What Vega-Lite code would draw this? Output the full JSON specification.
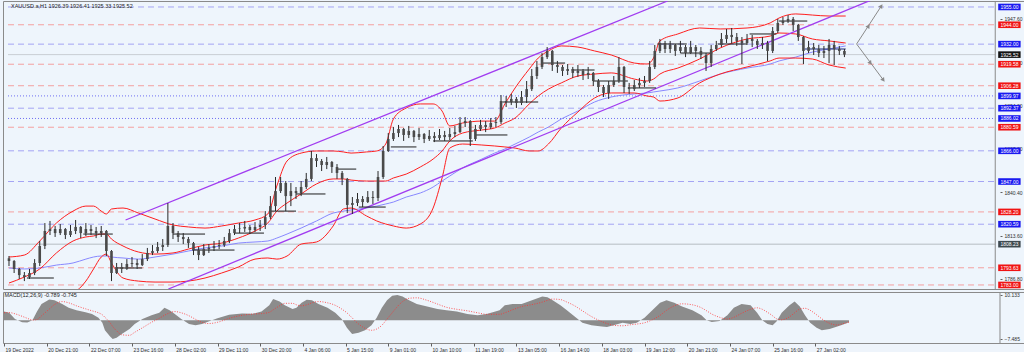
{
"$schema": "https://vega.github.io/schema/vega-lite/v6.json",
"background": "#eef4fb",
"padding": {"left": 1, "top": 0, "right": 0, "bottom": 0},
"autosize": {"type": "pad"},
"bounds": "flush",
"spacing": 3,
"config": {
  "view": {"stroke": "#8a8a8a", "strokeWidth": 1, "fill": "#eef5fc"},
  "font": "Liberation Sans",
  "axis": {"labelFont": "Liberation Sans", "labelFontSize": 5, "labelColor": "#303030", "tickColor": "#606060", "grid": false, "domain": false, "title": null, "zindex": 0}
},
"datasets": {
"bars": [
{"i":0,"o":1799.5,"h":1800.9,"l":1794.7,"c":1797.8},
{"i":4,"o":1797.8,"h":1798.4,"l":1790.4,"c":1792.9},
{"i":8,"o":1792.9,"h":1793.5,"l":1786.7,"c":1789.1},
{"i":12,"o":1789.1,"h":1791.0,"l":1785.4,"c":1787.9},
{"i":16,"o":1787.9,"h":1792.9,"l":1786.7,"c":1790.4},
{"i":20,"o":1790.4,"h":1799.0,"l":1789.1,"c":1796.6},
{"i":24,"o":1796.6,"h":1810.2,"l":1794.7,"c":1807.1},
{"i":28,"o":1807.1,"h":1821.3,"l":1805.2,"c":1816.4},
{"i":32,"o":1816.4,"h":1822.6,"l":1813.9,"c":1817.6},
{"i":36,"o":1817.6,"h":1819.5,"l":1812.7,"c":1815.1},
{"i":40,"o":1815.1,"h":1820.7,"l":1813.9,"c":1817.6},
{"i":44,"o":1817.6,"h":1818.2,"l":1811.4,"c":1813.9},
{"i":48,"o":1813.9,"h":1820.1,"l":1812.7,"c":1816.4},
{"i":52,"o":1816.4,"h":1823.2,"l":1814.5,"c":1818.9},
{"i":56,"o":1818.9,"h":1819.5,"l":1812.0,"c":1815.1},
{"i":60,"o":1815.1,"h":1821.3,"l":1813.3,"c":1817.6},
{"i":64,"o":1817.6,"h":1820.1,"l":1813.9,"c":1816.4},
{"i":68,"o":1816.4,"h":1818.9,"l":1812.0,"c":1815.1},
{"i":72,"o":1815.1,"h":1819.5,"l":1812.7,"c":1816.4},
{"i":76,"o":1816.4,"h":1817.0,"l":1800.9,"c":1804.0},
{"i":80,"o":1804.0,"h":1804.6,"l":1785.4,"c":1790.4},
{"i":84,"o":1790.4,"h":1796.6,"l":1789.8,"c":1794.1},
{"i":88,"o":1794.1,"h":1796.6,"l":1790.4,"c":1792.9},
{"i":92,"o":1792.9,"h":1799.0,"l":1792.3,"c":1796.0},
{"i":96,"o":1796.0,"h":1800.3,"l":1794.1,"c":1796.6},
{"i":100,"o":1796.6,"h":1799.0,"l":1792.9,"c":1795.3},
{"i":104,"o":1795.3,"h":1802.1,"l":1794.7,"c":1799.0},
{"i":108,"o":1799.0,"h":1805.9,"l":1797.8,"c":1802.8},
{"i":112,"o":1802.8,"h":1807.7,"l":1801.5,"c":1804.0},
{"i":116,"o":1804.0,"h":1809.6,"l":1802.8,"c":1806.5},
{"i":120,"o":1806.5,"h":1811.4,"l":1804.0,"c":1807.7},
{"i":124,"o":1807.7,"h":1833.7,"l":1806.5,"c":1819.5},
{"i":128,"o":1819.5,"h":1821.3,"l":1811.4,"c":1815.1},
{"i":132,"o":1815.1,"h":1816.4,"l":1809.6,"c":1812.7},
{"i":136,"o":1812.7,"h":1815.1,"l":1808.3,"c":1811.4},
{"i":140,"o":1811.4,"h":1812.7,"l":1805.9,"c":1808.9},
{"i":144,"o":1808.9,"h":1809.6,"l":1801.5,"c":1804.6},
{"i":148,"o":1804.6,"h":1806.5,"l":1798.4,"c":1801.5},
{"i":152,"o":1801.5,"h":1808.3,"l":1800.9,"c":1805.2},
{"i":156,"o":1805.2,"h":1808.3,"l":1802.8,"c":1805.9},
{"i":160,"o":1805.9,"h":1810.2,"l":1804.0,"c":1807.1},
{"i":164,"o":1807.1,"h":1810.8,"l":1805.2,"c":1807.7},
{"i":168,"o":1807.7,"h":1812.7,"l":1806.5,"c":1810.2},
{"i":172,"o":1810.2,"h":1817.6,"l":1808.9,"c":1815.1},
{"i":176,"o":1815.1,"h":1820.1,"l":1813.9,"c":1817.6},
{"i":180,"o":1817.6,"h":1821.3,"l":1815.1,"c":1817.9},
{"i":184,"o":1817.9,"h":1822.6,"l":1815.8,"c":1818.9},
{"i":188,"o":1818.9,"h":1820.1,"l":1814.5,"c":1817.0},
{"i":192,"o":1817.0,"h":1821.9,"l":1815.8,"c":1818.9},
{"i":196,"o":1818.9,"h":1823.2,"l":1816.4,"c":1820.1},
{"i":200,"o":1820.1,"h":1828.7,"l":1817.6,"c":1825.0},
{"i":204,"o":1825.0,"h":1838.0,"l":1823.8,"c":1831.8},
{"i":208,"o":1831.8,"h":1849.8,"l":1828.7,"c":1841.1},
{"i":212,"o":1841.1,"h":1849.8,"l":1839.9,"c":1846.1},
{"i":216,"o":1846.1,"h":1847.3,"l":1828.7,"c":1838.0},
{"i":220,"o":1838.0,"h":1846.1,"l":1831.8,"c":1841.1},
{"i":224,"o":1841.1,"h":1843.6,"l":1836.2,"c":1839.9},
{"i":228,"o":1839.9,"h":1847.3,"l":1838.0,"c":1843.6},
{"i":232,"o":1843.6,"h":1852.3,"l":1842.4,"c":1848.6},
{"i":236,"o":1848.6,"h":1865.9,"l":1847.3,"c":1861.5},
{"i":240,"o":1861.5,"h":1864.0,"l":1856.0,"c":1859.7},
{"i":244,"o":1859.7,"h":1860.9,"l":1853.5,"c":1857.2},
{"i":248,"o":1857.2,"h":1862.2,"l":1854.7,"c":1859.1},
{"i":252,"o":1859.1,"h":1859.7,"l":1852.3,"c":1856.0},
{"i":256,"o":1856.0,"h":1857.8,"l":1848.6,"c":1852.3},
{"i":260,"o":1852.3,"h":1853.5,"l":1844.8,"c":1848.6},
{"i":264,"o":1848.6,"h":1849.2,"l":1827.5,"c":1832.5},
{"i":268,"o":1832.5,"h":1837.4,"l":1826.9,"c":1833.7},
{"i":272,"o":1833.7,"h":1839.9,"l":1831.8,"c":1836.2},
{"i":276,"o":1836.2,"h":1838.0,"l":1831.2,"c":1834.3},
{"i":280,"o":1834.3,"h":1841.1,"l":1833.7,"c":1837.4},
{"i":284,"o":1837.4,"h":1841.1,"l":1833.1,"c":1836.8},
{"i":288,"o":1836.8,"h":1853.5,"l":1834.9,"c":1849.8},
{"i":292,"o":1849.8,"h":1869.0,"l":1848.6,"c":1865.9},
{"i":296,"o":1865.9,"h":1877.0,"l":1865.3,"c":1873.3},
{"i":300,"o":1873.3,"h":1880.7,"l":1872.1,"c":1877.0},
{"i":304,"o":1877.0,"h":1882.0,"l":1874.5,"c":1879.5},
{"i":308,"o":1879.5,"h":1880.1,"l":1872.1,"c":1875.8},
{"i":312,"o":1875.8,"h":1881.4,"l":1873.9,"c":1878.3},
{"i":316,"o":1878.3,"h":1878.9,"l":1871.4,"c":1874.5},
{"i":320,"o":1874.5,"h":1880.1,"l":1872.7,"c":1876.4},
{"i":324,"o":1876.4,"h":1877.0,"l":1870.8,"c":1873.3},
{"i":328,"o":1873.3,"h":1878.9,"l":1872.1,"c":1875.2},
{"i":332,"o":1875.2,"h":1877.6,"l":1871.4,"c":1873.9},
{"i":336,"o":1873.9,"h":1879.5,"l":1872.7,"c":1875.8},
{"i":340,"o":1875.8,"h":1878.3,"l":1872.1,"c":1874.5},
{"i":344,"o":1874.5,"h":1880.1,"l":1872.7,"c":1876.4},
{"i":348,"o":1876.4,"h":1881.4,"l":1874.5,"c":1877.6},
{"i":352,"o":1877.6,"h":1886.9,"l":1877.0,"c":1883.2},
{"i":356,"o":1883.2,"h":1886.9,"l":1880.7,"c":1884.4},
{"i":360,"o":1884.4,"h":1885.0,"l":1869.0,"c":1873.3},
{"i":364,"o":1873.3,"h":1882.0,"l":1872.1,"c":1879.5},
{"i":368,"o":1879.5,"h":1885.1,"l":1878.3,"c":1882.0},
{"i":372,"o":1882.0,"h":1884.4,"l":1877.6,"c":1880.7},
{"i":376,"o":1880.7,"h":1886.3,"l":1879.5,"c":1883.2},
{"i":380,"o":1883.2,"h":1886.9,"l":1880.7,"c":1883.8},
{"i":384,"o":1883.8,"h":1900.5,"l":1882.6,"c":1896.8},
{"i":388,"o":1896.8,"h":1899.9,"l":1893.1,"c":1896.2},
{"i":392,"o":1896.2,"h":1901.2,"l":1894.3,"c":1898.1},
{"i":396,"o":1898.1,"h":1899.3,"l":1892.5,"c":1895.6},
{"i":400,"o":1895.6,"h":1903.0,"l":1894.3,"c":1899.3},
{"i":404,"o":1899.3,"h":1909.2,"l":1895.6,"c":1904.2},
{"i":408,"o":1904.2,"h":1916.6,"l":1903.0,"c":1912.3},
{"i":412,"o":1912.3,"h":1921.6,"l":1910.4,"c":1917.9},
{"i":416,"o":1917.9,"h":1926.5,"l":1916.6,"c":1924.0},
{"i":420,"o":1924.0,"h":1930.2,"l":1922.8,"c":1927.8},
{"i":424,"o":1927.8,"h":1928.4,"l":1915.4,"c":1919.1},
{"i":428,"o":1919.1,"h":1921.6,"l":1914.2,"c":1917.9},
{"i":432,"o":1917.9,"h":1919.1,"l":1912.3,"c":1915.4},
{"i":436,"o":1915.4,"h":1919.7,"l":1912.9,"c":1916.6},
{"i":440,"o":1916.6,"h":1917.9,"l":1911.1,"c":1914.2},
{"i":444,"o":1914.2,"h":1919.1,"l":1911.7,"c":1915.4},
{"i":448,"o":1915.4,"h":1916.6,"l":1909.8,"c":1912.9},
{"i":452,"o":1912.9,"h":1917.9,"l":1910.4,"c":1914.2},
{"i":456,"o":1914.2,"h":1914.8,"l":1906.1,"c":1909.2},
{"i":460,"o":1909.2,"h":1910.4,"l":1902.4,"c":1905.5},
{"i":464,"o":1905.5,"h":1906.7,"l":1899.3,"c":1901.8},
{"i":468,"o":1901.8,"h":1909.2,"l":1898.1,"c":1906.7},
{"i":472,"o":1906.7,"h":1912.3,"l":1905.5,"c":1909.2},
{"i":476,"o":1909.2,"h":1924.0,"l":1908.0,"c":1917.9},
{"i":480,"o":1917.9,"h":1918.5,"l":1901.8,"c":1905.5},
{"i":484,"o":1905.5,"h":1908.0,"l":1901.2,"c":1904.2},
{"i":488,"o":1904.2,"h":1909.8,"l":1903.0,"c":1906.7},
{"i":492,"o":1906.7,"h":1911.1,"l":1904.9,"c":1908.0},
{"i":496,"o":1908.0,"h":1912.3,"l":1905.5,"c":1909.2},
{"i":500,"o":1909.2,"h":1921.6,"l":1908.0,"c":1917.9},
{"i":504,"o":1917.9,"h":1931.5,"l":1916.6,"c":1927.8},
{"i":508,"o":1927.8,"h":1935.2,"l":1926.5,"c":1932.7},
{"i":512,"o":1932.7,"h":1934.0,"l":1926.5,"c":1929.0},
{"i":516,"o":1929.0,"h":1934.0,"l":1926.5,"c":1931.5},
{"i":520,"o":1931.5,"h":1932.1,"l":1924.7,"c":1927.8},
{"i":524,"o":1927.8,"h":1934.0,"l":1926.5,"c":1930.2},
{"i":528,"o":1930.2,"h":1931.5,"l":1924.0,"c":1926.5},
{"i":532,"o":1926.5,"h":1934.0,"l":1926.0,"c":1930.2},
{"i":536,"o":1930.2,"h":1931.5,"l":1924.0,"c":1927.8},
{"i":540,"o":1927.8,"h":1930.2,"l":1922.8,"c":1925.3},
{"i":544,"o":1925.3,"h":1926.5,"l":1915.4,"c":1920.3},
{"i":548,"o":1920.3,"h":1931.5,"l":1917.9,"c":1929.0},
{"i":552,"o":1929.0,"h":1934.0,"l":1927.8,"c":1931.5},
{"i":556,"o":1931.5,"h":1938.9,"l":1930.2,"c":1935.2},
{"i":560,"o":1935.2,"h":1941.4,"l":1932.7,"c":1937.7},
{"i":564,"o":1937.7,"h":1942.0,"l":1932.7,"c":1936.4},
{"i":568,"o":1936.4,"h":1938.9,"l":1930.9,"c":1934.0},
{"i":572,"o":1934.0,"h":1936.4,"l":1919.7,"c":1932.7},
{"i":576,"o":1932.7,"h":1938.3,"l":1931.5,"c":1935.2},
{"i":580,"o":1935.2,"h":1937.7,"l":1930.2,"c":1934.0},
{"i":584,"o":1934.0,"h":1935.2,"l":1929.0,"c":1931.5},
{"i":588,"o":1931.5,"h":1936.4,"l":1929.0,"c":1932.7},
{"i":592,"o":1932.7,"h":1934.0,"l":1921.6,"c":1927.8},
{"i":596,"o":1927.8,"h":1942.6,"l":1926.5,"c":1940.1},
{"i":600,"o":1940.1,"h":1947.6,"l":1938.9,"c":1945.1},
{"i":604,"o":1945.1,"h":1948.8,"l":1943.9,"c":1946.3},
{"i":608,"o":1946.3,"h":1950.0,"l":1945.1,"c":1947.6},
{"i":612,"o":1947.6,"h":1948.8,"l":1940.1,"c":1943.9},
{"i":616,"o":1943.9,"h":1944.5,"l":1934.0,"c":1936.4},
{"i":620,"o":1936.4,"h":1937.0,"l":1919.7,"c":1927.8},
{"i":624,"o":1927.8,"h":1934.0,"l":1926.5,"c":1930.2},
{"i":628,"o":1930.2,"h":1932.7,"l":1925.3,"c":1929.0},
{"i":632,"o":1929.0,"h":1931.5,"l":1924.0,"c":1926.5},
{"i":636,"o":1926.5,"h":1930.9,"l":1923.4,"c":1927.8},
{"i":640,"o":1927.8,"h":1935.2,"l":1920.3,"c":1931.5},
{"i":644,"o":1931.5,"h":1934.0,"l":1919.1,"c":1929.0},
{"i":648,"o":1929.0,"h":1930.9,"l":1925.3,"c":1927.8},
{"i":652,"o":1927.8,"h":1929.0,"l":1924.0,"c":1925.52}
],
"bands": [
{"i":0,"u":1800.3,"m":1784.2,"l":1773.1,"a":1793.5},
{"i":12,"u":1801.5,"m":1787.9,"l":1773.1,"a":1792.9},
{"i":24,"u":1810.2,"m":1792.9,"l":1774.3,"a":1793.5},
{"i":37,"u":1821.3,"m":1802.8,"l":1775.5,"a":1795.3},
{"i":50,"u":1828.7,"m":1810.2,"l":1778.0,"a":1796.6},
{"i":60,"u":1831.8,"m":1812.7,"l":1785.4,"a":1799.0},
{"i":66,"u":1831.8,"m":1813.3,"l":1792.9,"a":1800.3},
{"i":72,"u":1828.7,"m":1814.5,"l":1800.3,"a":1800.9},
{"i":76,"u":1826.9,"m":1814.5,"l":1802.1,"a":1800.9},
{"i":80,"u":1830.0,"m":1811.4,"l":1796.6,"a":1800.3},
{"i":89,"u":1830.6,"m":1807.1,"l":1787.3,"a":1799.7},
{"i":101,"u":1827.5,"m":1803.4,"l":1785.4,"a":1799.0},
{"i":114,"u":1823.8,"m":1802.1,"l":1784.8,"a":1800.3},
{"i":128,"u":1820.1,"m":1802.8,"l":1784.8,"a":1802.1},
{"i":140,"u":1818.9,"m":1805.2,"l":1785.4,"a":1804.0},
{"i":153,"u":1818.2,"m":1807.7,"l":1787.3,"a":1805.9},
{"i":166,"u":1819.5,"m":1808.9,"l":1790.4,"a":1807.1},
{"i":179,"u":1821.3,"m":1812.0,"l":1794.1,"a":1808.9},
{"i":192,"u":1823.2,"m":1816.4,"l":1799.0,"a":1809.6},
{"i":202,"u":1826.9,"m":1821.3,"l":1799.7,"a":1810.2},
{"i":209,"u":1844.2,"m":1828.7,"l":1799.0,"a":1812.0},
{"i":217,"u":1859.7,"m":1833.7,"l":1800.9,"a":1814.5},
{"i":228,"u":1864.6,"m":1839.3,"l":1808.3,"a":1818.2},
{"i":240,"u":1865.9,"m":1845.5,"l":1809.6,"a":1822.6},
{"i":253,"u":1865.9,"m":1848.6,"l":1819.5,"a":1827.5},
{"i":261,"u":1865.3,"m":1848.6,"l":1830.0,"a":1828.7},
{"i":267,"u":1864.6,"m":1847.9,"l":1830.6,"a":1829.4},
{"i":279,"u":1865.3,"m":1847.3,"l":1825.7,"a":1830.6},
{"i":287,"u":1865.9,"m":1847.3,"l":1822.6,"a":1831.8},
{"i":294,"u":1870.2,"m":1847.3,"l":1820.7,"a":1833.1},
{"i":300,"u":1885.7,"m":1849.2,"l":1819.5,"a":1834.3},
{"i":310,"u":1892.5,"m":1851.6,"l":1818.2,"a":1837.4},
{"i":321,"u":1895.0,"m":1856.0,"l":1820.7,"a":1839.9},
{"i":331,"u":1895.0,"m":1860.9,"l":1830.6,"a":1843.6},
{"i":338,"u":1890.6,"m":1865.9,"l":1849.2,"a":1847.3},
{"i":344,"u":1881.4,"m":1872.1,"l":1867.7,"a":1850.4},
{"i":354,"u":1883.2,"m":1877.0,"l":1870.2,"a":1855.4},
{"i":369,"u":1884.4,"m":1878.9,"l":1869.6,"a":1860.9},
{"i":379,"u":1884.4,"m":1880.1,"l":1869.0,"a":1864.6},
{"i":387,"u":1895.0,"m":1883.2,"l":1868.4,"a":1867.1},
{"i":395,"u":1904.9,"m":1886.3,"l":1867.7,"a":1870.2},
{"i":406,"u":1916.6,"m":1895.0,"l":1865.9,"a":1874.5},
{"i":413,"u":1923.4,"m":1899.9,"l":1865.9,"a":1877.6},
{"i":421,"u":1927.8,"m":1904.2,"l":1870.2,"a":1880.7},
{"i":431,"u":1930.9,"m":1908.0,"l":1880.1,"a":1885.7},
{"i":444,"u":1930.2,"m":1912.3,"l":1890.0,"a":1890.6},
{"i":457,"u":1927.8,"m":1913.5,"l":1898.7,"a":1896.2},
{"i":470,"u":1925.3,"m":1914.2,"l":1901.8,"a":1899.3},
{"i":488,"u":1920.3,"m":1910.4,"l":1901.8,"a":1901.2},
{"i":498,"u":1919.7,"m":1909.2,"l":1899.9,"a":1901.8},
{"i":503,"u":1923.4,"m":1910.4,"l":1899.3,"a":1902.4},
{"i":508,"u":1934.0,"m":1913.5,"l":1896.8,"a":1903.0},
{"i":522,"u":1938.3,"m":1917.2,"l":1898.7,"a":1904.9},
{"i":539,"u":1942.0,"m":1922.8,"l":1908.0,"a":1909.2},
{"i":555,"u":1941.4,"m":1929.6,"l":1913.5,"a":1913.5},
{"i":576,"u":1942.0,"m":1935.2,"l":1917.9,"a":1917.2},
{"i":594,"u":1945.1,"m":1937.0,"l":1921.6,"a":1919.7},
{"i":601,"u":1948.2,"m":1938.9,"l":1923.4,"a":1921.6},
{"i":614,"u":1950.7,"m":1938.3,"l":1923.4,"a":1924.0},
{"i":627,"u":1950.0,"m":1935.2,"l":1922.8,"a":1927.1},
{"i":640,"u":1949.4,"m":1934.0,"l":1919.1,"a":1929.0},
{"i":653,"u":1949.4,"m":1932.7,"l":1917.2,"a":1930.9}
],
"levels": [
{"p":1955.00,"t":"b"},
{"p":1944.00,"t":"r"},
{"p":1932.00,"t":"b"},
{"p":1925.52,"t":"c"},
{"p":1919.58,"t":"r"},
{"p":1906.28,"t":"r"},
{"p":1899.97,"t":"bd"},
{"p":1892.37,"t":"b"},
{"p":1886.02,"t":"bd"},
{"p":1880.59,"t":"r"},
{"p":1866.00,"t":"b"},
{"p":1847.00,"t":"b"},
{"p":1828.20,"t":"r"},
{"p":1820.59,"t":"b"},
{"p":1808.23,"t":"g"},
{"p":1793.63,"t":"r"},
{"p":1783.00,"t":"r"}
],
"trend": [
{"g":"up","i":91,"p":1823.2},
{"g":"up","i":514,"p":1958.7},
{"g":"lo","i":124.4,"p":1780.5},
{"g":"lo","i":673,"p":1959.3}
],
"fork": [
{"g":"a","i":661.5,"p":1932.1},
{"g":"a","i":680.8,"p":1955.6},
{"g":"b","i":661.5,"p":1932.1},
{"g":"b","i":682.4,"p":1909.8}
],
"heads": [
{"g":"a","i":670.8,"p":1943.2},
{"g":"a","i":680.8,"p":1955.6},
{"g":"b","i":672.3,"p":1920.3},
{"g":"b","i":682.4,"p":1909.8}
],
"seg": [
{"a":14,"b":35,"p":1787.3,"n":"k"},
{"a":58,"b":81,"p":1814.5,"n":"k"},
{"a":83,"b":104,"p":1793.5,"n":"k"},
{"a":128,"b":153,"p":1814.5,"n":"k"},
{"a":143,"b":176,"p":1804.6,"n":"k"},
{"a":176,"b":199,"p":1815.1,"n":"k"},
{"a":203,"b":224,"p":1828.7,"n":"k"},
{"a":224,"b":247,"p":1839.3,"n":"k"},
{"a":256,"b":271,"p":1854.7,"n":"k"},
{"a":273,"b":294,"p":1831.2,"n":"k"},
{"a":298,"b":318,"p":1868.4,"n":"k"},
{"a":331,"b":362,"p":1872.1,"n":"k"},
{"a":364,"b":389,"p":1875.8,"n":"k"},
{"a":385,"b":413,"p":1896.2,"n":"k"},
{"a":416,"b":434,"p":1920.3,"n":"k"},
{"a":439,"b":457,"p":1916.0,"n":"k"},
{"a":456,"b":483,"p":1909.2,"n":"k"},
{"a":485,"b":505,"p":1904.9,"n":"k"},
{"a":506,"b":529,"p":1932.1,"n":"k"},
{"a":524,"b":549,"p":1926.5,"n":"k"},
{"a":553,"b":576,"p":1932.1,"n":"k"},
{"a":578,"b":599,"p":1938.3,"n":"k"},
{"a":601,"b":623,"p":1946.3,"n":"k"},
{"a":621,"b":653,"p":1929.0,"n":"nv"}
],
"macd": [
{"i":0,"v":3.5,"s":3.0},{"i":4,"v":3.0,"s":3.1},{"i":8.5,"v":0.5,"s":2.6},{"i":14,"v":-0.8,"s":1.6},{"i":18,"v":-0.9,"s":0.8},
{"i":22,"v":0,"s":0.1},{"i":25.5,"v":3.5,"s":0.3},{"i":29,"v":6.5,"s":1.8},{"i":35,"v":8.3,"s":4.5},{"i":39,"v":8.0,"s":6.3},
{"i":45,"v":6.5,"s":7.5},{"i":50,"v":5.0,"s":7.0},{"i":56,"v":4.0,"s":5.8},{"i":63,"v":3.2,"s":4.6},{"i":68,"v":2.5,"s":3.8},
{"i":73,"v":1.0,"s":3.0},{"i":76,"v":-1.0,"s":2.2},{"i":78,"v":-4.0,"s":1.2},{"i":82,"v":-6.5,"s":-1.0},{"i":84,"v":-7.485,"s":-2.5},
{"i":87,"v":-7.0,"s":-4.2},{"i":91,"v":-5.5,"s":-5.8},{"i":97,"v":-3.5,"s":-6.0},{"i":101,"v":-1.5,"s":-4.8},{"i":107,"v":0.5,"s":-3.0},
{"i":114,"v":2.0,"s":-0.8},{"i":120,"v":3.0,"s":0.8},{"i":124,"v":5.0,"s":2.0},{"i":128,"v":4.0,"s":3.0},{"i":132,"v":2.5,"s":3.5},
{"i":137,"v":0.5,"s":3.0},{"i":143,"v":-1.5,"s":1.8},{"i":148,"v":-2.0,"s":0.4},{"i":153,"v":-1.5,"s":-0.8},{"i":158,"v":-0.5,"s":-1.3},
{"i":165,"v":0.8,"s":-0.8},{"i":174,"v":2.2,"s":0.8},{"i":184,"v":2.7,"s":2.0},{"i":192,"v":2.6,"s":2.5},{"i":199,"v":3.5,"s":2.7},
{"i":205,"v":6.0,"s":3.2},{"i":208,"v":8.5,"s":4.2},{"i":213,"v":7.5,"s":5.8},{"i":217,"v":6.0,"s":6.8},{"i":223,"v":4.5,"s":6.8},
{"i":226,"v":5.0,"s":6.2},{"i":230,"v":7.0,"s":5.8},{"i":234,"v":8.2,"s":6.2},{"i":238,"v":8.0,"s":7.0},{"i":243,"v":6.5,"s":7.5},
{"i":250,"v":5.0,"s":7.0},{"i":256,"v":3.0,"s":6.0},{"i":261,"v":0.5,"s":4.5},{"i":265,"v":-3.0,"s":3.0},{"i":269,"v":-5.5,"s":1.0},
{"i":274,"v":-5.0,"s":-1.5},{"i":279,"v":-4.0,"s":-3.2},{"i":284,"v":-2.0,"s":-4.0},{"i":288,"v":1.0,"s":-3.5},{"i":292,"v":5.0,"s":-2.0},
{"i":296,"v":8.0,"s":0.5},{"i":300,"v":9.8,"s":3.0},{"i":304,"v":10.133,"s":5.5},{"i":308,"v":9.5,"s":7.5},{"i":313,"v":8.0,"s":8.8},
{"i":319,"v":6.5,"s":9.0},{"i":327,"v":5.5,"s":8.0},{"i":335,"v":4.5,"s":6.5},{"i":342,"v":4.0,"s":5.2},{"i":350,"v":3.5,"s":4.4},
{"i":358,"v":2.5,"s":3.8},{"i":366,"v":2.0,"s":3.0},{"i":373,"v":2.5,"s":2.4},{"i":383,"v":4.0,"s":2.4},{"i":387,"v":6.0,"s":3.0},
{"i":393,"v":6.5,"s":4.2},{"i":400,"v":6.5,"s":5.5},{"i":408,"v":8.0,"s":6.3},{"i":416,"v":9.5,"s":7.3},{"i":420,"v":9.2,"s":8.0},
{"i":424,"v":8.0,"s":8.5},{"i":430,"v":6.0,"s":8.3},{"i":435,"v":4.0,"s":7.3},{"i":441,"v":1.5,"s":5.8},{"i":447,"v":-1.0,"s":3.8},
{"i":454,"v":-2.0,"s":1.5},{"i":462,"v":-2.5,"s":-0.5},{"i":466,"v":-2.7,"s":-1.3},{"i":471,"v":-2.0,"s":-2.0},{"i":478,"v":-1.0,"s":-2.2},
{"i":484,"v":-1.5,"s":-1.8},{"i":489,"v":-1.0,"s":-1.5},{"i":495,"v":1.0,"s":-1.0},{"i":501,"v":4.0,"s":0.2},{"i":507,"v":7.0,"s":2.0},
{"i":512,"v":8.0,"s":4.0},{"i":518,"v":7.0,"s":5.8},{"i":524,"v":5.5,"s":6.6},{"i":532,"v":4.0,"s":6.2},{"i":539,"v":2.0,"s":5.0},
{"i":543,"v":0,"s":3.8},{"i":547,"v":-0.7,"s":2.5},{"i":553,"v":-0.3,"s":1.2},{"i":559,"v":2.0,"s":0.5},{"i":564,"v":5.0,"s":1.2},
{"i":570,"v":6.5,"s":2.8},{"i":577,"v":6.0,"s":4.4},{"i":582,"v":3.0,"s":5.0},{"i":586,"v":0,"s":4.4},{"i":590,"v":-1.5,"s":3.2},
{"i":594,"v":-2.0,"s":1.8},{"i":597,"v":-0.5,"s":0.6},{"i":601,"v":3.0,"s":0.2},{"i":607,"v":6.0,"s":1.4},{"i":611,"v":7.5,"s":3.0},
{"i":615,"v":5.5,"s":4.5},{"i":619,"v":2.0,"s":4.8},{"i":623,"v":-1.0,"s":4.0},{"i":628,"v":-3.0,"s":2.2},{"i":632,"v":-4.0,"s":0.6},
{"i":638,"v":-3.5,"s":-1.2},{"i":644,"v":-2.5,"s":-1.9},{"i":648,"v":-1.8,"s":-1.4},{"i":653,"v":-0.789,"s":-0.745}
]
},
"vconcat": [
{
  "width": 1023,
  "height": 288,
  "title": {"text": "XAUUSD.a,H1  1926.39 1926.41 1925.33 1925.52", "anchor": "start", "orient": "top", "offset": -9, "dx": 8, "fontSize": 5.5, "fontWeight": "normal", "font": "Liberation Sans", "color": "#222222"},
  "layer": [
    {"data": {"name": "levels"}, "mark": {"type": "rule", "strokeWidth": 1},
     "encoding": {"x": {"datum": -0.77, "type": "quantitative", "scale": {"domain": [-0.77, 789.8], "nice": false, "zero": false}, "axis": null}, "x2": {"datum": 769.7},
       "y": {"field": "p", "type": "quantitative", "scale": {"domain": [1780.5, 1958.7], "nice": false, "zero": false}},
       "stroke": {"field": "t", "type": "nominal", "scale": {"domain": ["b","bd","r","c","g"], "range": ["#a4a4f4","#6f6ff2","#f4a0a0","#c9ced4","#b6bcc3"]}, "legend": null},
       "strokeDash": {"field": "t", "type": "nominal", "scale": {"domain": ["b","bd","r","c","g"], "range": [[6,4],[1,2],[6,4],[1,0],[1,0]]}, "legend": null}}},
    {"data": {"values": [{}]}, "mark": {"type": "rule", "color": "#8a8a8a", "strokeWidth": 1},
     "encoding": {"x": {"datum": 769.7, "type": "quantitative", "scale": {"domain": [-0.77, 789.8], "nice": false, "zero": false}, "axis": null}}},
    {
      "encoding": {
        "x": {"field": "i", "type": "quantitative", "scale": {"domain": [-0.77, 789.8], "nice": false, "zero": false}, "axis": null},
        "y": {"field": "p", "type": "quantitative", "scale": {"domain": [1780.5, 1958.7], "nice": false, "zero": false},
              "axis": {"orient": "right", "offset": -26, "values": [1947.6, 1934.2, 1920.8, 1907.4, 1894.0, 1880.6, 1867.2, 1853.8, 1840.4, 1827.0, 1813.6, 1800.2, 1786.8], "format": ".2f", "tickSize": 2, "labelPadding": 2, "labelBound": false, "labelOverlap": false, "labelFlush": false}}
      },
      "layer": [
        {"data": {"name": "bands"}, "mark": {"type": "line", "color": "#8888ff", "strokeWidth": 1, "interpolate": "monotone", "clip": true},
         "encoding": {"y": {"field": "a", "type": "quantitative"}}},
        {"data": {"name": "bands"}, "mark": {"type": "line", "color": "#ff1f1f", "strokeWidth": 1, "interpolate": "monotone", "clip": true},
         "encoding": {"y": {"field": "u", "type": "quantitative"}}},
        {"data": {"name": "bands"}, "mark": {"type": "line", "color": "#ff1f1f", "strokeWidth": 1, "interpolate": "monotone", "clip": true},
         "encoding": {"y": {"field": "m", "type": "quantitative"}}},
        {"data": {"name": "bands"}, "mark": {"type": "line", "color": "#ff1f1f", "strokeWidth": 1, "interpolate": "monotone", "clip": true},
         "encoding": {"y": {"field": "l", "type": "quantitative"}}},
        {"data": {"name": "trend"}, "mark": {"type": "line", "color": "#a13cf0", "strokeWidth": 1.3, "clip": true},
         "encoding": {"detail": {"field": "g"}}},
        {"data": {"name": "seg"}, "transform": [{"filter": "datum.n == 'k'"}], "mark": {"type": "rule", "strokeWidth": 1, "color": "#1e1e1e"},
         "encoding": {"x": {"field": "a", "type": "quantitative"}, "x2": {"field": "b"}}},
        {"data": {"name": "seg"}, "transform": [{"filter": "datum.n == 'nv'"}], "mark": {"type": "rule", "strokeWidth": 1, "color": "#1c2a78"},
         "encoding": {"x": {"field": "a", "type": "quantitative"}, "x2": {"field": "b"}}},
        {"data": {"name": "bars"}, "mark": {"type": "rule", "color": "#2a2a2a", "strokeWidth": 1, "clip": true},
         "encoding": {"y": {"field": "l", "type": "quantitative"}, "y2": {"field": "h"}}},
        {"data": {"name": "bars"}, "mark": {"type": "bar", "width": 2.6, "color": "#4a4a4a", "clip": true},
         "encoding": {"y": {"field": "o", "type": "quantitative"}, "y2": {"field": "c"}}},
        {"data": {"name": "fork"}, "mark": {"type": "line", "color": "#8a8a8a", "strokeWidth": 1, "clip": true},
         "encoding": {"detail": {"field": "g"}}},
        {"data": {"name": "heads"}, "transform": [{"filter": "datum.g == 'a'"}], "mark": {"type": "point", "shape": "triangle-up", "filled": true, "color": "#8a8a8a", "size": 22, "angle": 33, "opacity": 1},
         "encoding": {}},
        {"data": {"name": "heads"}, "transform": [{"filter": "datum.g == 'b'"}], "mark": {"type": "point", "shape": "triangle-up", "filled": true, "color": "#8a8a8a", "size": 22, "angle": 143, "opacity": 1},
         "encoding": {}}
      ]
    },
    {"data": {"name": "levels"}, "mark": {"type": "rect", "yOffset": -3.3, "y2Offset": 3.3},
     "encoding": {"x": {"datum": 772, "type": "quantitative", "scale": {"domain": [-0.77, 789.8], "nice": false, "zero": false}, "axis": null}, "x2": {"datum": 789.5},
       "y": {"field": "p", "type": "quantitative", "scale": {"domain": [1780.5, 1958.7], "nice": false, "zero": false}}, "y2": {"field": "p"},
       "fill": {"field": "t", "type": "nominal", "scale": {"domain": ["b","bd","r","c","g"], "range": ["#1a1af0","#1a1af0","#f01414","#141414","#3e4a50"]}, "legend": null}}},
    {"data": {"name": "levels"}, "mark": {"type": "text", "fontSize": 5, "font": "Liberation Sans", "color": "#ffffff", "align": "center", "baseline": "middle"},
     "encoding": {"x": {"datum": 780.8, "type": "quantitative", "scale": {"domain": [-0.77, 789.8], "nice": false, "zero": false}, "axis": null},
       "y": {"field": "p", "type": "quantitative", "scale": {"domain": [1780.5, 1958.7], "nice": false, "zero": false}},
       "text": {"field": "p", "type": "quantitative", "format": ".2f"}}}
  ]
},
{
  "width": 1023,
  "height": 51,
  "title": {"text": "MACD(12,26,9) -0.789 -0.745", "anchor": "start", "orient": "top", "offset": -7, "dx": 2, "fontSize": 5.5, "fontWeight": "normal", "font": "Liberation Sans", "color": "#222222"},
  "layer": [
    {
      "data": {"name": "macd"},
      "encoding": {
        "x": {"field": "i", "type": "quantitative", "scale": {"domain": [-0.77, 789.8], "nice": false, "zero": false},
              "axis": {"orient": "bottom", "values": [0,33,66,99,132,165,198,231,264,297,330,363,396,429,462,495,528,561,594,627],
                       "labelExpr": "['19 Dec 2022','20 Dec 21:00','22 Dec 07:00','23 Dec 16:00','28 Dec 02:00','29 Dec 11:00','30 Dec 20:00','4 Jan 06:00','5 Jan 15:00','9 Jan 01:00','10 Jan 10:00','11 Jan 19:00','13 Jan 05:00','16 Jan 14:00','18 Jan 03:00','19 Jan 12:00','20 Jan 21:00','24 Jan 07:00','25 Jan 16:00','27 Jan 02:00'][round(datum.value/33)]",
                       "labelAlign": "left", "labelBaseline": "top", "labelOffset": 1, "labelPadding": 1, "tickSize": 3, "labelOverlap": false, "labelBound": false, "labelFlush": false}}
      },
      "layer": [
        {"mark": {"type": "area", "color": "#8c8c8c", "opacity": 1},
         "encoding": {"y": {"field": "v", "type": "quantitative", "scale": {"domain": [-9.09, 11.33], "nice": false, "zero": false},
                            "axis": {"orient": "right", "offset": -26, "values": [10.133, 0, -7.485], "labelExpr": "datum.value == 0 ? '0.00' : format(datum.value, '.3f')", "tickSize": 2, "labelPadding": 2, "labelBound": false, "labelOverlap": false, "labelFlush": false}},
                      "y2": {"datum": 0}}},
        {"mark": {"type": "line", "color": "#ff3030", "strokeWidth": 0.8, "strokeDash": [1, 1.5], "interpolate": "monotone"},
         "encoding": {"y": {"field": "s", "type": "quantitative"}}}
      ]
    },
    {"data": {"values": [{}]}, "mark": {"type": "rule", "color": "#8a8a8a", "strokeWidth": 1},
     "encoding": {"x": {"datum": 769.7, "type": "quantitative", "scale": {"domain": [-0.77, 789.8], "nice": false, "zero": false}}}}
  ]
}
]
}
